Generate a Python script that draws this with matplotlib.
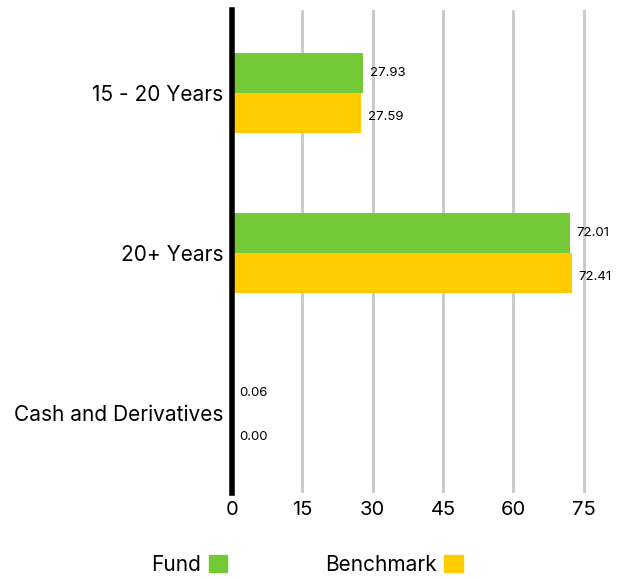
import matplotlib.pyplot as plt
from matplotlib.patches import Patch
import numpy as np

plt.rcParams['font.family'] = ['Inter', 'DejaVu Sans']

# 数据
categories = ['15 - 20 Years', '20+ Years', 'Cash and Derivatives']
fund = [27.93, 72.01, 0.06]
benchmark = [27.59, 72.41, 0.00]
xticks = [0, 15, 30, 45, 60, 75]

green = '#74c936'
yellow = '#ffcc00'

fig = plt.figure(figsize=(6.32, 5.79), dpi=100)
ax = fig.add_axes([0.367, 0.1485, 0.59, 0.8345])

y = np.arange(len(categories))
h = 0.25
ax.barh(y - h / 2, fund, height=h, color=green, zorder=3)
ax.barh(y + h / 2, benchmark, height=h, color=yellow, zorder=3)

# 数值标签
for i in range(len(categories)):
    ax.annotate(f'{fund[i]:.2f}', (fund[i], y[i] - h / 2), xytext=(5, 0),
                textcoords='offset points', va='center', fontsize=9.5)
    ax.annotate(f'{benchmark[i]:.2f}', (benchmark[i], y[i] + h / 2), xytext=(5, -3),
                textcoords='offset points', va='center', fontsize=9.5)

ax.set_ylim(2.5, -0.52)
ax.set_xlim(0, 79.5)
ax.set_yticks(y)
ax.set_yticklabels(categories, fontsize=15)
ax.set_xticks(xticks)
ax.set_xticklabels([str(t) for t in xticks], fontsize=14.5)
ax.tick_params(axis='both', length=0, pad=6)

ax.grid(axis='x', color='#c8c8c8', linewidth=2, zorder=0)
for s in ['top', 'right', 'bottom']:
    ax.spines[s].set_visible(False)
ax.spines['left'].set_linewidth(4)
ax.spines['left'].set_color('black')
ax.spines['left'].set_zorder(4)

handles = [Patch(color=green, label='Fund'), Patch(color=yellow, label='Benchmark')]
fig.legend(handles=handles, loc='lower left', bbox_to_anchor=(0.21, -0.025), ncol=2,
           frameon=False, markerfirst=False, fontsize=15, handlelength=0.9,
           handleheight=0.9, handletextpad=0.35, columnspacing=4.7)

plt.savefig('out.png', dpi=100)
